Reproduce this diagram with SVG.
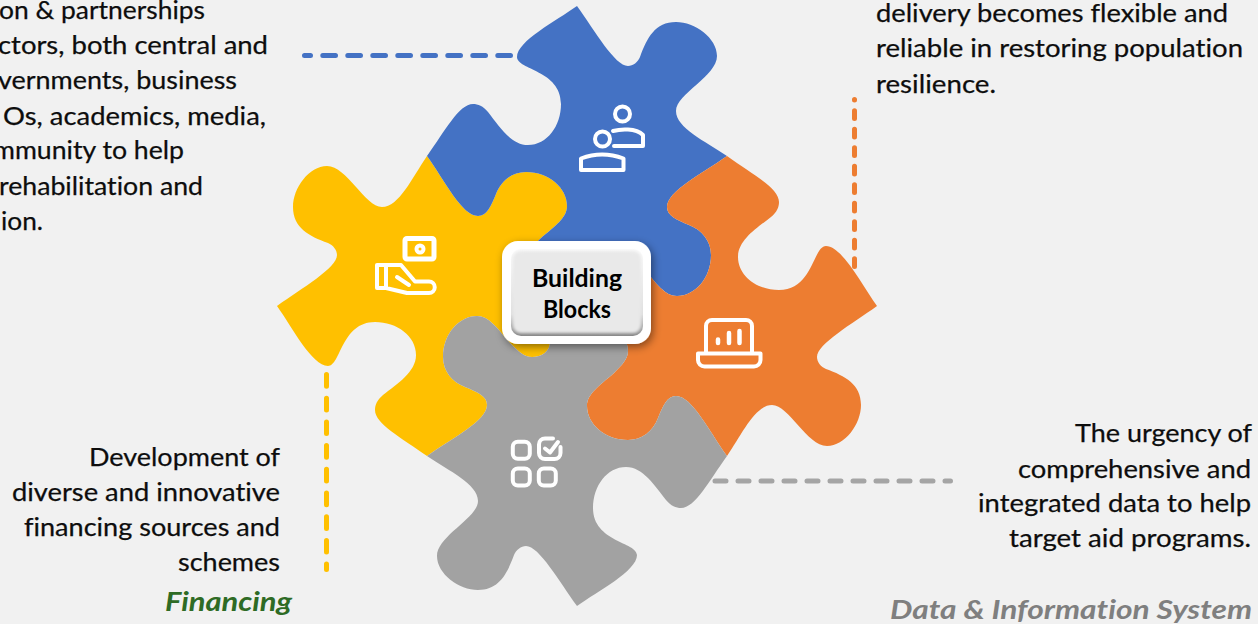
<svg xmlns="http://www.w3.org/2000/svg" width="1258" height="624" viewBox="0 0 1258 624">
<style>
text{font-family:"Lato","Open Sans","Liberation Sans",sans-serif;font-size:25.5px;fill:#0d0d0d;stroke:#0d0d0d;stroke-width:.25;font-variant-ligatures:none}
.h{font-weight:700;font-style:italic;font-size:27px;stroke:none}
.c{font-weight:700;font-size:24.500px;fill:#000;stroke:none}
.i{fill:none;stroke:#fff;stroke-width:4;stroke-linejoin:round;stroke-linecap:round}
.d{fill:none;stroke-width:5;stroke-linecap:round}
</style>
<defs>
<path id="piece" d="M-150 -150C-165 -128 -178 -99 -195 -99C-212 -99 -230 -140 -250 -140C-268 -140 -284 -118 -284 -99C-284 -78 -268 -70 -249 -63C-244 -61 -240 -56 -240 -51C-240 -38 -275 -18 -300 0C-285 21 -265 60 -249 60C-236 60 -236 16 -202 16C-180 16 -161 30 -161 49C-161 66 -180 78 -194 89C-200 94 -202 99 -202 104C-202 118 -175 132 -150 150C-125 132 -90 115 -90 99C-90 90 -100 86 -112 81C-125 76 -134 65 -134 51C-134 28 -118 10 -100 10C-88 10 -80 22 -67 37C-59 45 -53 51 -45 51C-35 51 -27 45 -27 36L0 0L-36 -27C-45 -27 -51 -35 -51 -45C-51 -53 -45 -59 -37 -67C-22 -80 -10 -88 -10 -100C-10 -118 -28 -134 -51 -134C-65 -134 -76 -125 -81 -112C-86 -100 -90 -90 -99 -90C-115 -90 -132 -125 -150 -150Z"/>
<linearGradient id="bev" x1="0" y1="0" x2="0" y2="1"><stop offset="0" stop-color="#fbfbfb"/><stop offset=".75" stop-color="#dedede"/><stop offset="1" stop-color="#858585"/></linearGradient>
<filter id="sh" x="-20%" y="-20%" width="140%" height="150%"><feDropShadow dx="2" dy="3" stdDeviation="4" flood-color="#000" flood-opacity=".45"/></filter>
<filter id="bl" x="-10%" y="-10%" width="120%" height="120%"><feGaussianBlur stdDeviation="1.5"/></filter>
</defs>
<rect width="1258" height="624" fill="#f1f1f1"/>
<g id="connectors">
<path class="d" stroke="#4472c4" stroke-dasharray="12.700 12.300" d="M510.500 55.500H304.500"/>
<path class="d" stroke="#ed7d31" stroke-dasharray="7.700 10.800" d="M854.500 266.500V99.500"/>
<path class="d" stroke="#ffc000" stroke-dasharray="11.700 12" d="M326.500 374.500V569.500"/>
<path class="d" stroke="#a5a5a5" stroke-dasharray="11 12" d="M715 481H950.500"/>
</g>
<g id="node-financing">
<use href="#piece" fill="#ffc000" transform="translate(577 306)"/>
<rect class="i" x="405" y="238.500" width="29" height="20.500" rx="2" style="stroke-width:5"/>
<circle cx="420" cy="249" r="3.500" class="i"/>
<path class="i" d="M386 265V288M377 265H401L415 281.500H429A5.500 5.500 0 0 1 429 293H407L386 288H377ZM397 277L409 285"/>
<text x="89" y="466" textLength="191" lengthAdjust="spacingAndGlyphs">Development of</text>
<text x="12" y="501" textLength="268" lengthAdjust="spacingAndGlyphs">diverse and innovative</text>
<text x="24" y="536" textLength="256" lengthAdjust="spacingAndGlyphs">financing sources and</text>
<text x="178" y="571" textLength="102" lengthAdjust="spacingAndGlyphs">schemes</text>
<text class="h" x="165" y="611" textLength="127" lengthAdjust="spacingAndGlyphs" style="fill:#2e6b25">Financing</text>
</g>
<g id="node-partnership">
<use href="#piece" fill="#4472c4" transform="translate(577 306) rotate(90)"/>
<circle cx="622.500" cy="114" r="7.500" class="i"/>
<circle cx="602.500" cy="139" r="7.500" class="i"/>
<path class="i" d="M581 170V158.500Q602 150.500 623.500 158.500V170Z"/>
<path class="i" d="M613 131Q620 129 628 129.500Q638 130 643 135V146H614"/>
<text x="-1" y="19" textLength="206" lengthAdjust="spacingAndGlyphs">on &amp; partnerships</text>
<text x="-2" y="54" textLength="270" lengthAdjust="spacingAndGlyphs">ctors, both central and</text>
<text x="-2" y="89" textLength="239" lengthAdjust="spacingAndGlyphs">vernments, business</text>
<text x="3" y="125" textLength="263" lengthAdjust="spacingAndGlyphs">Os, academics, media,</text>
<text x="-7" y="159" textLength="191" lengthAdjust="spacingAndGlyphs">mmunity to help</text>
<text x="-1" y="195" textLength="204" lengthAdjust="spacingAndGlyphs">rehabilitation and</text>
<text x="1" y="230" textLength="42" lengthAdjust="spacingAndGlyphs">ion.</text>
</g>
<g id="node-service">
<use href="#piece" fill="#ed7d31" transform="translate(577 306) rotate(180)"/>
<path class="i" d="M706 353V326A6 6 0 0 1 712 320H746A6 6 0 0 1 752 326V353"/>
<path class="i" d="M698 353.500H760.500V360A6.500 6.500 0 0 1 754 366.500H704.500A6.500 6.500 0 0 1 698 360Z"/>
<path class="i" style="stroke-width:4.500" d="M718 339.500V343M729 333V343M739.500 331V343"/>
<text x="876" y="22" textLength="352" lengthAdjust="spacingAndGlyphs">delivery becomes flexible and</text>
<text x="876" y="57" textLength="367" lengthAdjust="spacingAndGlyphs">reliable in restoring population</text>
<text x="876" y="93" textLength="120" lengthAdjust="spacingAndGlyphs">resilience.</text>
</g>
<g id="node-data">
<use href="#piece" fill="#a2a2a2" transform="translate(577 306) rotate(270)"/>
<rect class="i" x="512.800" y="441.800" width="17" height="17" rx="5"/>
<rect class="i" x="512.800" y="468.500" width="17" height="17" rx="5"/>
<rect class="i" x="538.800" y="468.500" width="17" height="17" rx="5"/>
<path class="i" d="M553 438.500H545A6 6 0 0 0 539 444.500V453A6 6 0 0 0 545 459H554.500A6 6 0 0 0 560.500 453V447M545 448.500L550 452.500L558 442"/>
<text x="1075" y="442" textLength="177" lengthAdjust="spacingAndGlyphs">The urgency of</text>
<text x="1018" y="478" textLength="233" lengthAdjust="spacingAndGlyphs">comprehensive and</text>
<text x="978" y="512" textLength="273" lengthAdjust="spacingAndGlyphs">integrated data to help</text>
<text x="1009" y="547" textLength="242" lengthAdjust="spacingAndGlyphs">target aid programs.</text>
<text class="h" x="890" y="619" textLength="362" lengthAdjust="spacingAndGlyphs" style="fill:#7f7f7f">Data &amp; Information System</text>
</g>
<g id="node-center">
<rect x="502" y="241" width="149" height="103" rx="16" fill="#fff" filter="url(#sh)"/>
<rect x="511" y="249" width="132" height="87" rx="10" fill="url(#bev)"/>
<rect x="513" y="251" width="128" height="82" rx="8" fill="#e9e9e9" filter="url(#bl)"/>
<text class="c" x="532" y="287" textLength="90" lengthAdjust="spacingAndGlyphs">Building</text>
<text class="c" x="543" y="318" textLength="68" lengthAdjust="spacingAndGlyphs">Blocks</text>
</g>
</svg>
